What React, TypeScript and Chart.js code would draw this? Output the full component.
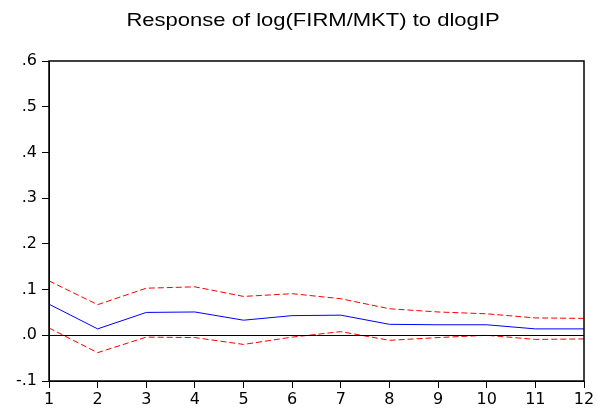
import React, { useEffect, useRef } from "react";
import { Chart, registerables } from "chart.js";

Chart.register(...registerables);

const TITLE = "Response of log(FIRM/MKT) to dlogIP";
const periods = ["1", "2", "3", "4", "5", "6", "7", "8", "9", "10", "11", "12"];
const response = [0.068, 0.014, 0.050, 0.051, 0.033, 0.043, 0.044, 0.024, 0.023, 0.023, 0.014, 0.014];
const upperBand = [0.119, 0.067, 0.103, 0.106, 0.085, 0.091, 0.080, 0.058, 0.051, 0.047, 0.038, 0.037];
const lowerBand = [0.016, -0.038, -0.004, -0.005, -0.020, -0.004, 0.008, -0.011, -0.005, 0.000, -0.009, -0.008];
const yMin = -0.1;
const yMax = 0.6;
const yStep = 0.1;

const FONT = "'DejaVu Sans', sans-serif";
const TITLE_FONT = "'Liberation Sans', Arial, sans-serif";

const framePlugin = {
  id: "frameAndZero",
  afterDatasetsDraw(chart: any) {
    const { ctx, chartArea } = chart;
    const y = chart.scales.y;
    ctx.save();
    ctx.strokeStyle = "#000";
    ctx.lineWidth = 1;
    const zy = Math.round(y.getPixelForValue(0)) + 0.5;
    ctx.beginPath();
    ctx.moveTo(chartArea.left, zy);
    ctx.lineTo(chartArea.right, zy);
    ctx.stroke();
    ctx.lineWidth = 1.5;
    ctx.strokeRect(chartArea.left, chartArea.top, chartArea.right - chartArea.left, chartArea.bottom - chartArea.top);
    ctx.restore();
  },
  afterDraw(chart: any) {
    const { ctx } = chart;
    ctx.save();
    ctx.fillStyle = "#000";
    ctx.font = `18.5px ${TITLE_FONT}`;
    ctx.textAlign = "center";
    ctx.textBaseline = "alphabetic";
    ctx.translate(313, 26);
    ctx.scale(1.19, 1);
    ctx.fillText(TITLE, 0, 0);
    ctx.restore();
  },
};

export default function App() {
  const ref = useRef<HTMLCanvasElement | null>(null);
  useEffect(() => {
    if (!ref.current) return;
    const chart = new Chart(ref.current, {
      type: "line",
      data: {
        labels: periods,
        datasets: [
          {
            data: upperBand,
            borderColor: "#ff0000",
            borderWidth: 1,
            borderDash: [6, 3],
            pointRadius: 0,
            tension: 0,
            fill: false,
          },
          {
            data: response,
            borderColor: "#0000ff",
            borderWidth: 1,
            pointRadius: 0,
            tension: 0,
            fill: false,
          },
          {
            data: lowerBand,
            borderColor: "#ff0000",
            borderWidth: 1,
            borderDash: [6, 3],
            pointRadius: 0,
            tension: 0,
            fill: false,
          },
        ],
      },
      options: {
        animation: false,
        responsive: false,
        maintainAspectRatio: false,
        devicePixelRatio: 1,
        layout: { padding: { left: 0, right: 22, top: 61, bottom: 0 } },
        plugins: {
          legend: { display: false },
          title: { display: false },
          tooltip: { enabled: false },
        },
        scales: {
          x: {
            type: "category",
            offset: false,
            grid: {
              display: true,
              drawOnChartArea: false,
              drawTicks: true,
              tickLength: 7,
              tickColor: "#000",
              color: "#000",
              offset: false,
            },
            border: { display: true, color: "#000", width: 1 },
            ticks: {
              color: "#000",
              font: { family: FONT, size: 16 },
              padding: 2,
              maxRotation: 0,
              autoSkip: false,
            },
            afterFit(scale: any) {
              scale.height = 34;
            },
          },
          y: {
            min: yMin,
            max: yMax,
            grid: {
              display: true,
              drawOnChartArea: false,
              drawTicks: true,
              tickLength: 7,
              tickColor: "#000",
              color: "#000",
            },
            border: { display: true, color: "#000", width: 1 },
            ticks: {
              stepSize: yStep,
              color: "#000",
              font: { family: FONT, size: 16 },
              padding: 5,
              callback: (v: any) => {
                const r = Math.round(Number(v) * 10) / 10;
                return r.toFixed(1).replace("0.", ".");
              },
            },
            afterFit(scale: any) {
              scale.width = 49;
            },
          },
        },
      },
      plugins: [framePlugin],
    });
    return () => chart.destroy();
  }, []);
  return (
    <div style={{ position: "fixed", left: 0, top: 0, width: 606, height: 415, background: "#fff" }}>
      <canvas ref={ref} width={606} height={415} style={{ width: 606, height: 415, display: "block" }} />
    </div>
  );
}
